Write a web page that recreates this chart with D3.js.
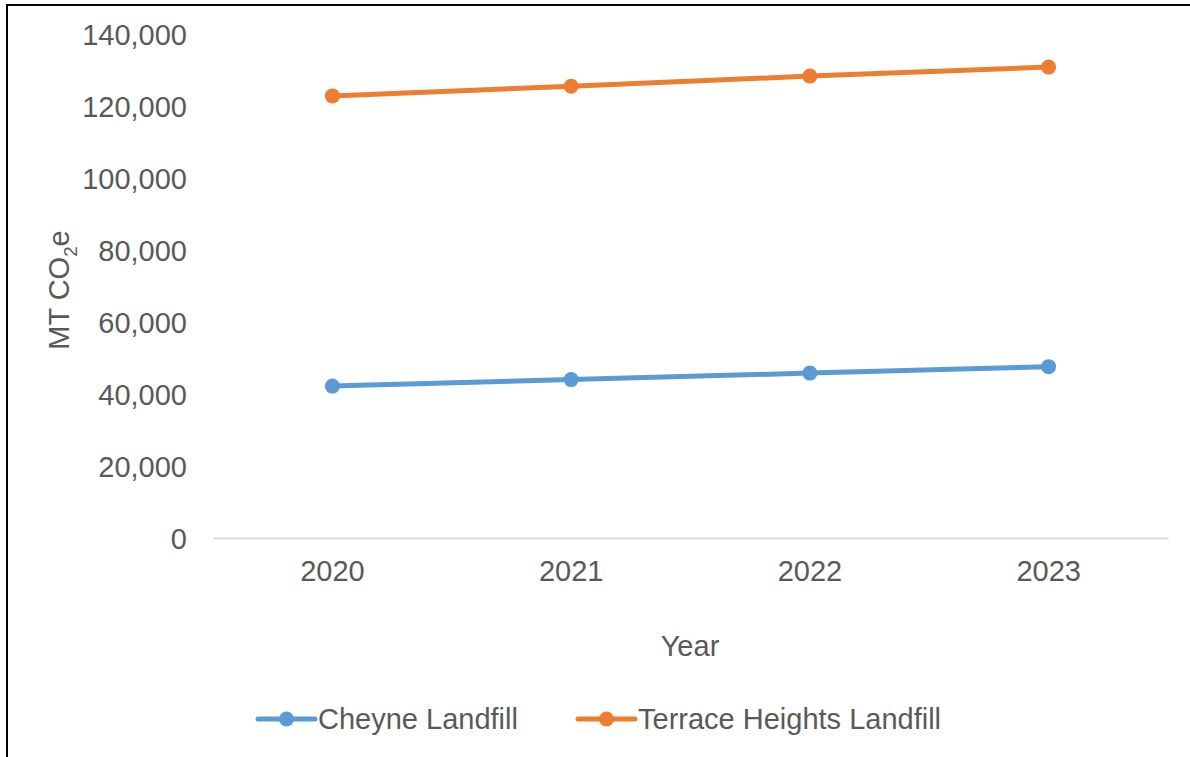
<!DOCTYPE html>
<html><head><meta charset="utf-8">
<script src="https://cdn.jsdelivr.net/npm/d3@7"></script>
<style>body{margin:0;background:#fff}svg{display:block}text{font-family:"Liberation Sans",Arial,sans-serif;fill:#595959}</style>
</head><body>
<script>
const years = ["2020","2021","2022","2023"];
const cheyne = [42200, 44000, 45800, 47600];
const terrace = [122800, 125500, 128300, 130800];
const yTicks = [0,20000,40000,60000,80000,100000,120000,140000];
const seriesNames = ["Cheyne Landfill","Terrace Heights Landfill"];
const colors = ["#5b9bd5","#ed7d31"];

const W=1190,H=757;
const svg=d3.select("body").append("svg").attr("width",W).attr("height",H);
// frame
svg.append("path").attr("d",`M7,${H} L7,5 L${W},5`).attr("fill","none").attr("stroke","#000").attr("stroke-width",2);

const x=d3.scaleBand().domain(years).range([213,1168]);
const y=d3.scaleLinear().domain([0,140000]).range([538,34]);
const fmt=d3.format(",");
const fs=29;

// y axis labels
const ya=svg.append("g").attr("transform","translate(187,0)")
  .call(d3.axisLeft(y).tickValues(yTicks).tickFormat(fmt).tickSize(0).tickPadding(0));
ya.select(".domain").remove();
ya.selectAll("text").attr("font-size",fs).attr("fill","#595959").style("font-family","'Liberation Sans',Arial,sans-serif").attr("dy","0.35em");

// x axis
const xa=svg.append("g").attr("transform","translate(0,538)")
  .call(d3.axisBottom(x).tickSize(0).tickPadding(22));
xa.select(".domain").attr("stroke","#d9d9d9").attr("stroke-width",2);
xa.selectAll("text").attr("font-size",fs).attr("fill","#595959").style("font-family","'Liberation Sans',Arial,sans-serif");

// titles
svg.append("text").attr("x",690).attr("y",656).attr("text-anchor","middle").attr("font-size",fs).text("Year");
const yt=svg.append("text").attr("transform","translate(69,290) rotate(-90)").attr("text-anchor","middle").attr("font-size",fs);
yt.append("tspan").text("MT CO");
yt.append("tspan").attr("font-size",fs*0.65).attr("dy",8).text("2");
yt.append("tspan").attr("dy",-8).text("e");

const series=[cheyne,terrace];
const line=d3.line().x((d,i)=>x(years[i])+x.bandwidth()/2).y(d=>y(d));
series.forEach((s,k)=>{
  svg.append("path").datum(s).attr("d",line).attr("fill","none").attr("stroke",colors[k]).attr("stroke-width",5).attr("stroke-linecap","round");
  svg.selectAll(null).data(s).enter().append("circle")
    .attr("cx",(d,i)=>x(years[i])+x.bandwidth()/2).attr("cy",d=>y(d)).attr("r",7.5).attr("fill",colors[k]);
});

// legend
const lx=[258,578];
seriesNames.forEach((n,k)=>{
  const g=svg.append("g").attr("transform",`translate(${lx[k]},719)`);
  g.append("line").attr("x1",0).attr("x2",57).attr("stroke",colors[k]).attr("stroke-width",5).attr("stroke-linecap","round");
  g.append("circle").attr("cx",28.5).attr("r",7.5).attr("fill",colors[k]);
  g.append("text").attr("x",60).attr("y",10).attr("font-size",fs).text(n);
});
</script>
</body></html>
